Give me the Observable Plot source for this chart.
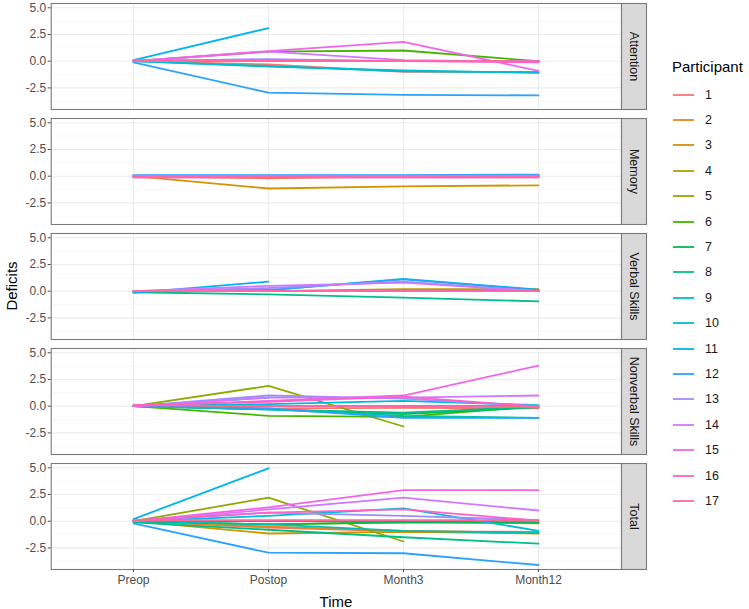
<!DOCTYPE html>
<html>
<head>
<meta charset="utf-8">
<script src="https://cdn.jsdelivr.net/npm/d3@7"></script>
<script src="https://cdn.jsdelivr.net/npm/@observablehq/plot@0.6"></script>
<style>
  html, body { margin: 0; padding: 0; background: #fff; }
  body { font-family: "Liberation Sans", Arial, Helvetica, sans-serif; }
  #wrap { position: relative; width: 749px; height: 609px; overflow: hidden; }
  #ylab { position: absolute; left: 11px; top: 286px; transform: translate(-50%, -50%) rotate(-90deg); font-size: 15px; color: #000; white-space: nowrap; }
  #xlab { position: absolute; left: 336px; top: 601px; transform: translate(-50%, -50%); font-size: 15px; color: #000; white-space: nowrap; }
  #legend { position: absolute; left: 672px; top: 57px; }
  #legend .title { font-size: 15px; height: 20px; line-height: 20px; color: #000; margin-bottom: 5px; }
  #legend .row { display: flex; align-items: center; height: 25.4px; }
  #legend .row svg { margin-left: 1px; margin-right: 11px; }
  #legend .row span { font-size: 12.5px; color: #1a1a1a; }
</style>
</head>
<body>
<div id="wrap">
  <div id="chart"></div>
  <div id="ylab">Deficits</div>
  <div id="xlab">Time</div>
  <div id="legend"></div>
</div>
<script>
// ---- data ----
const times = ["Preop", "Postop", "Month3", "Month12"];
const domains = ["Attention", "Memory", "Verbal Skills", "Nonverbal Skills", "Total"];
const participants = [1, 2, 3, 4, 5, 6, 7, 8, 9, 10, 11, 12, 13, 14, 15, 16, 17];
const yTicks = [-2.5, 0, 2.5, 5];
const yMinorTicks = [-3.75, -1.25, 1.25, 3.75];

// values per participant: [Preop, Postop, Month3, Month12]; null = missing
const attention = [
  [0, -0.3, -1.0, -1.0],
  [0, 0, 0, 0],
  [0, 0, 0, 0],
  [0, 0, 0, 0],
  [0, 0, 0, 0],
  [0, 0.9, 1.0, 0],
  [0, 0, 0, 0],
  [0, 0, 0, 0],
  [0, -0.45, -0.95, -1.05],
  [0, -0.5, -0.85, -1.1],
  [0.1, 3.1, null, null],
  [-0.1, -2.95, -3.15, -3.2],
  [0, 0.2, 0, 0],
  [0, 0.9, 0.1, -0.05],
  [0, 0.95, 1.8, -0.9],
  [0.1, 0.1, 0, -0.1],
  [0, 0, 0, 0]
];
const memory = [
  [0, 0, 0, 0],
  [0, -0.2, 0, 0],
  [0, -1.15, -0.95, -0.85],
  [0, 0, 0, 0],
  [0, 0, 0, 0],
  [0, 0, 0, 0],
  [0, 0, 0, 0],
  [0, 0, 0, 0],
  [0, 0, 0, 0],
  [0, 0, 0, 0],
  [0.05, 0.05, 0.05, 0.05],
  [0.1, 0.1, 0.1, 0.15],
  [0.05, 0.05, 0.05, 0.05],
  [0, 0, 0, 0],
  [0, 0, 0, 0],
  [-0.1, -0.1, -0.1, -0.1],
  [-0.1, -0.1, -0.1, -0.1]
];
const verbal = [
  [0, 0, 0, 0],
  [0, 0, 0, 0],
  [0, 0, 0.1, 0.1],
  [0, 0, 0.2, 0.2],
  [0, 0, 0, 0],
  [0, 0, 0, 0],
  [0, 0, 0, 0],
  [-0.1, -0.3, -0.6, -0.95],
  [0, 0, 0, 0],
  [0, 0.1, 1.15, 0.15],
  [-0.15, 0.9, null, null],
  [0, 0.1, 1.1, 0.1],
  [0, 0.3, 0.9, 0],
  [0, 0.5, 0.8, 0],
  [0, 0, 0, 0],
  [0, 0, 0, 0],
  [0, 0, 0, 0]
];
const nonverbal = [
  [0, -0.2, -0.15, -0.2],
  [0, 0, 0, 0],
  [0, 0, 0, 0],
  [0, 0, 0, 0],
  [0, 1.9, -1.9, null],
  [0, -0.9, -1.0, 0],
  [0, -0.3, -0.75, -0.1],
  [0, -0.3, -0.6, -0.05],
  [0, -0.3, -0.9, -1.1],
  [0, 0.2, 0.5, 0.1],
  [0, 0.8, null, null],
  [0, -0.2, -1.1, -1.1],
  [0, 1.0, 0.7, 0],
  [0, 0.8, 0.8, 1.0],
  [0, 0.5, 1.0, 3.8],
  [0.1, 0.4, 0.9, -0.05],
  [0.1, 0, 0, -0.1]
];
const total = [
  [0, -0.6, -0.95, -1.0],
  [0, -0.5, -0.9, -1.1],
  [0, -1.15, -1.0, -1.15],
  [0, -0.3, -0.1, -0.2],
  [0, 2.2, -1.9, null],
  [0, 0, 0, -0.15],
  [0, -0.3, -0.1, -0.1],
  [-0.1, -0.8, -1.5, -2.1],
  [0, -0.3, -0.9, -1.1],
  [0, 0.5, 1.2, -0.9],
  [0.2, 4.95, null, null],
  [-0.2, -2.95, -3.0, -4.1],
  [0, 0.8, 0.5, 0.1],
  [0, 1.1, 2.2, 1.0],
  [0, 1.3, 2.9, 2.9],
  [0.1, 0.8, 1.1, 0.05],
  [0.1, 0.1, 0.1, 0.1]
];
const valuesByDomain = [attention, memory, verbal, nonverbal, total];

// ---- ggplot2 hue palette (polar LUV) ----
function hclHex(h, c, l) {
  const hr = h * Math.PI / 180;
  const U = c * Math.cos(hr), V = c * Math.sin(hr);
  const Xn = 95.047, Yn = 100, Zn = 108.883;
  const den = Xn + 15 * Yn + 3 * Zn;
  const un = 4 * Xn / den, vn = 9 * Yn / den;
  const Y = Yn * (l > 8 ? Math.pow((l + 16) / 116, 3) : l / 903.3);
  const u = U / (13 * l) + un, v = V / (13 * l) + vn;
  const X = 9 * Y * u / (4 * v);
  const Z = Y * (12 - 3 * u - 20 * v) / (4 * v);
  const x = X / 100, y = Y / 100, z = Z / 100;
  const lin = [
    3.240479 * x - 1.537150 * y - 0.498535 * z,
    -0.969256 * x + 1.875992 * y + 0.041556 * z,
    0.055648 * x - 0.204043 * y + 1.057311 * z
  ];
  const g = t => { t = t <= 0.0031308 ? 12.92 * t : 1.055 * Math.pow(t, 1 / 2.4) - 0.055; return Math.max(0, Math.min(255, Math.round(t * 255))); };
  return "#" + lin.map(g).map(n => n.toString(16).padStart(2, "0")).join("");
}
const palette = participants.map((p, i) => hclHex(15 + i * 360 / participants.length, 100, 65));

// ---- tidy table ----
const rows = [];
domains.forEach((dom, di) => {
  participants.forEach((p, pi) => {
    times.forEach((t, ti) => {
      const v = valuesByDomain[di][pi][ti];
      rows.push({domain: dom, participant: p, time: t, value: v == null ? NaN : v});
    });
  });
});

// ---- layout ----
const W = 749, H = 609;
const mL = 50.7, mR = 128, mT = 1, mB = 37.3;
const frameW = W - mL - mR;
const stripW = 25;
const border = "#7a7a7a";

const chart = Plot.plot({
  width: W,
  height: H,
  marginLeft: mL,
  marginRight: mR,
  marginTop: mT,
  marginBottom: mB,
  style: {fontFamily: "Liberation Sans, Arial, Helvetica, sans-serif", background: "white"},
  x: {type: "point", domain: times, padding: 0.6, axis: null},
  y: {domain: [-4.52, 5.40], axis: null},
  fy: {domain: domains, paddingInner: 0.08, paddingOuter: 0, axis: null},
  color: {domain: participants, range: palette},
  marks: [
    Plot.gridY(yMinorTicks, {stroke: "#F2F2F2", strokeOpacity: 1, strokeWidth: 0.6}),
    Plot.gridY(yTicks, {stroke: "#EBEBEB", strokeOpacity: 1, strokeWidth: 1.1}),
    Plot.gridX(times, {stroke: "#EBEBEB", strokeOpacity: 1, strokeWidth: 1.1}),
    Plot.line(rows, {x: "time", y: "value", z: "participant", stroke: "participant", fy: "domain", strokeWidth: 1.8, curve: "linear"}),
    Plot.frame({stroke: border, strokeWidth: 1.1}),
    Plot.frame({insetLeft: frameW, insetRight: -stripW, fill: "#D9D9D9", stroke: border, strokeWidth: 1.1}),
    Plot.text(domains, {fy: d => d, text: d => d, frameAnchor: "right", textAnchor: "middle", lineAnchor: "middle", dx: stripW / 2, rotate: 90, fontSize: 12.5, fill: "#1a1a1a"}),
    Plot.axisY(yTicks, {tickSize: 3, tickPadding: 2, fontSize: 12, color: "#4D4D4D", tickFormat: d => d.toFixed(1), label: null}),
    Plot.axisX(times, {tickSize: 3, tickPadding: 3, fontSize: 12, color: "#4D4D4D", label: null})
  ]
});
document.getElementById("chart").appendChild(chart);

// ---- legend ----
const legend = document.getElementById("legend");
const title = document.createElement("div");
title.className = "title";
title.textContent = "Participant";
legend.appendChild(title);
participants.forEach((p, i) => {
  const row = document.createElement("div");
  row.className = "row";
  const svg = d3.create("svg").attr("width", 21).attr("height", 6);
  svg.append("line").attr("x1", 0).attr("x2", 21).attr("y1", 3).attr("y2", 3)
    .attr("stroke", palette[i]).attr("stroke-width", 1.8);
  row.appendChild(svg.node());
  const s = document.createElement("span");
  s.textContent = String(p);
  row.appendChild(s);
  legend.appendChild(row);
});
</script>
</body>
</html>
